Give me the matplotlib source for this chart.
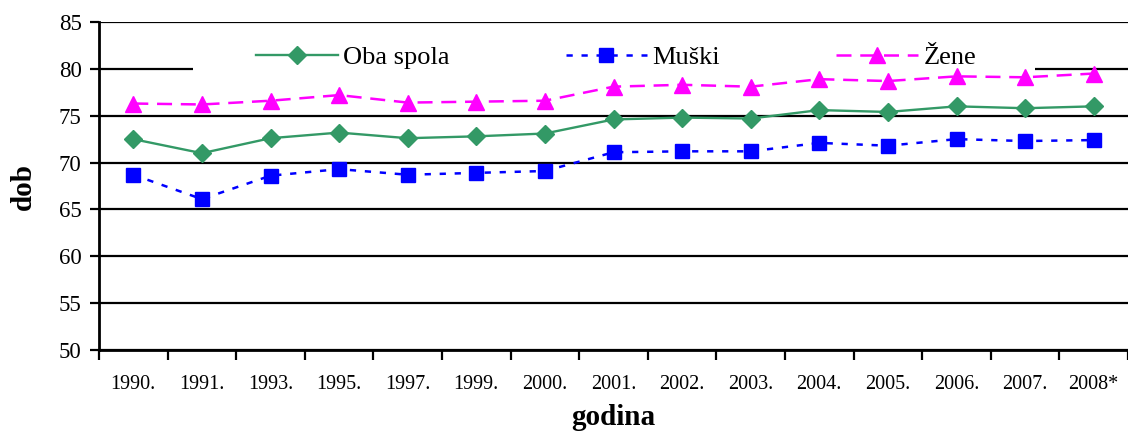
import numpy as np
import matplotlib
matplotlib.use('Agg')
import matplotlib.pyplot as plt
from matplotlib.patches import Rectangle

plt.rcParams['font.family'] = ['Liberation Serif', 'DejaVu Serif']

godine = ['1990.', '1991.', '1993.', '1995.', '1997.', '1999.', '2000.', '2001.',
          '2002.', '2003.', '2004.', '2005.', '2006.', '2007.', '2008*']
oba_spola = [72.5, 71.0, 72.6, 73.2, 72.6, 72.8, 73.1, 74.6, 74.8, 74.7, 75.6, 75.4, 76.0, 75.8, 76.0]
muski = [68.7, 66.1, 68.6, 69.3, 68.7, 68.9, 69.1, 71.1, 71.2, 71.2, 72.1, 71.8, 72.5, 72.3, 72.4]
zene = [76.3, 76.2, 76.6, 77.2, 76.4, 76.5, 76.6, 78.1, 78.3, 78.1, 78.9, 78.7, 79.2, 79.1, 79.5]

W, H = 1128, 432
fig = plt.figure(figsize=(W / 100, H / 100), dpi=100)
ax = fig.add_axes([99 / W, 1 - 350 / H, 1029 / W, 328 / H])

x = np.arange(len(godine))
ax.plot(x, oba_spola, color='#339966', lw=1.7, marker='D', markersize=9,
        label='Oba spola', zorder=3)
ax.plot(x, muski, color='#0000FF', lw=1.8, marker='s', markersize=10.5,
        dashes=(2.5, 3.5), label='Muški', zorder=3)
ax.plot(x, zene, color='#FF00FF', lw=1.8, marker='^', markersize=12,
        dashes=(6, 3.5), label='Žene', zorder=3)

ax.set_ylim(50, 85)
ax.set_yticks(np.arange(50, 86, 5))
ax.set_xlim(-0.5, len(godine) - 0.5)
ax.set_xticks(x)
ax.set_xticklabels(godine, fontsize=14.5)
ax.set_xticks(np.arange(-0.5, len(godine), 1), minor=True)
ax.tick_params(axis='x', which='major', length=0, pad=18)
ax.tick_params(axis='x', which='minor', length=7, width=1.6, direction='out')
ax.tick_params(axis='y', labelsize=16.5, length=6.5, width=1.6, pad=6)

ax.yaxis.grid(True, color='black', lw=1.6)
ax.set_axisbelow(True)
for s in ['top', 'right']:
    ax.spines[s].set_visible(False)
for s in ['left', 'bottom']:
    ax.spines[s].set_linewidth(2)
    ax.spines[s].set_zorder(4)

ax.set_ylabel('dob', fontsize=21, fontweight='bold', labelpad=16)
ax.set_xlabel('godina', fontsize=21, fontweight='bold', labelpad=7)

# white box behind the legend, hides the 80 gridline
box = Rectangle((193 / W, 1 - 76 / H), (1035 - 193) / W, 36 / H,
                transform=fig.transFigure, facecolor='white', edgecolor='none',
                zorder=2)
ax.add_artist(box)

leg = ax.legend(loc='center', bbox_to_anchor=(616 / W, 1 - 57 / H),
                bbox_transform=fig.transFigure, ncol=3, fontsize=19,
                handlelength=3.1, columnspacing=4.4, handletextpad=0.2,
                frameon=False, borderpad=0.2)
leg.set_zorder(5)

fig.savefig('out.png', dpi=100)
